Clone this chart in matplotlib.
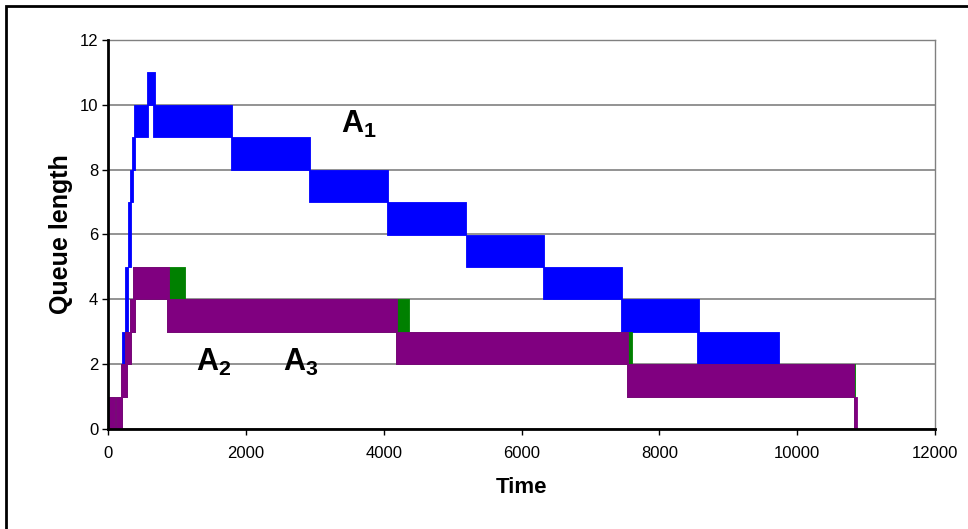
"""
queues.py

Queue length over time for three arrival streams.
"""
import matplotlib
matplotlib.use("Agg")
from matplotlib import pyplot as plt
from matplotlib.patches import Rectangle

plt.rcParams["font.family"] = ["Liberation Sans", "DejaVu Sans"]
plt.rcParams["mathtext.fontset"] = "custom"
plt.rcParams["mathtext.rm"] = "Liberation Sans"
plt.rcParams["mathtext.bf"] = "Liberation Sans:bold"

# each series is a run of oscillation bands: queue flips between low and high
# during [start, end]
a1_start = [190, 207, 250, 290, 320, 352, 377, 562, 653, 1790, 2920, 4055, 5190, 6307, 7440, 8542]
a1_end = [200, 257, 290, 330, 358, 387, 585, 678, 1800, 2931, 4065, 5200, 6330, 7463, 8576, 9737]
a1_low = [0, 1, 3, 5, 7, 8, 9, 10, 9, 8, 7, 6, 5, 4, 3, 2]
a1_high = [1, 3, 5, 7, 8, 9, 10, 11, 10, 9, 8, 7, 6, 5, 4, 3]

a2_start = [15, 110, 193, 247, 319, 367, 856, 4175, 7527, 10820]
a2_end = [95, 205, 271, 330, 392, 1117, 4368, 7608, 10835, 10835]
a2_low = [0, 0, 1, 2, 3, 4, 3, 2, 1, 0]
a2_high = [1, 1, 2, 3, 4, 5, 4, 3, 2, 1]

a3_start = [15, 110, 193, 247, 319, 367, 856, 4175, 7527, 10829]
a3_end = [95, 205, 271, 330, 392, 885, 4189, 7550, 10829, 10870]
a3_low = [0, 0, 1, 2, 3, 4, 3, 2, 1, 0]
a3_high = [1, 1, 2, 3, 4, 5, 4, 3, 2, 1]

x_ticks = [0, 2000, 4000, 6000, 8000, 10000, 12000]
y_ticks = [0, 2, 4, 6, 8, 10, 12]


def draw_bands(ax, starts, ends, lows, highs, color):
    """Fill each oscillation band of a series."""
    for t0, t1, lo, hi in zip(starts, ends, lows, highs):
        ax.fill_between([t0, t1], [lo, lo], [hi, hi], color=color, linewidth=0.6,
                        edgecolor=color, zorder=3)


fig = plt.figure(figsize=(9.68, 5.29), dpi=100)
ax = fig.add_axes([108 / 968, 100 / 529, 827 / 968, 389 / 529])

draw_bands(ax, a1_start, a1_end, a1_low, a1_high, "#0000ff")
draw_bands(ax, a2_start, a2_end, a2_low, a2_high, "#008000")
draw_bands(ax, a3_start, a3_end, a3_low, a3_high, "#800080")

ax.set_xlim(0, 12000)
ax.set_ylim(0, 12)
ax.set_xticks(x_ticks)
ax.set_yticks(y_ticks)
ax.tick_params(labelsize=11, length=4, width=1, direction="out")
ax.tick_params(axis="x", pad=8)
ax.tick_params(axis="y", pad=3)
for lbl in ax.get_xticklabels() + ax.get_yticklabels():
    lbl.set_family(["Liberation Sans Narrow", "Liberation Sans"])
    lbl.set_fontsize(12)

ax.yaxis.grid(True, color="#808080", linewidth=1.2)
ax.set_axisbelow(True)
for side in ["top", "right"]:
    ax.spines[side].set_color("#808080")
    ax.spines[side].set_linewidth(1)
for side in ["left", "bottom"]:
    ax.spines[side].set_color("black")
    ax.spines[side].set_linewidth(2)
    ax.spines[side].set_zorder(5)

ax.set_xlabel("Time", fontsize=16, fontweight="bold", labelpad=12)
ax.set_ylabel("Queue length", fontsize=18, fontweight="bold", labelpad=5)

ax.text(3380, 9.4, r"$\mathbf{A_1}$", fontsize=22, ha="left", va="center")
ax.text(1270, 2.05, r"$\mathbf{A_2}$", fontsize=22, ha="left", va="center")
ax.text(2540, 2.05, r"$\mathbf{A_3}$", fontsize=22, ha="left", va="center")

# outer frame around the chart
fig.add_artist(Rectangle((6 / 968, -0.1), 1.2, 1.1 - 6 / 529, transform=fig.transFigure,
                         fill=False, edgecolor="black", linewidth=2))

fig.savefig("out.png", dpi=100)
